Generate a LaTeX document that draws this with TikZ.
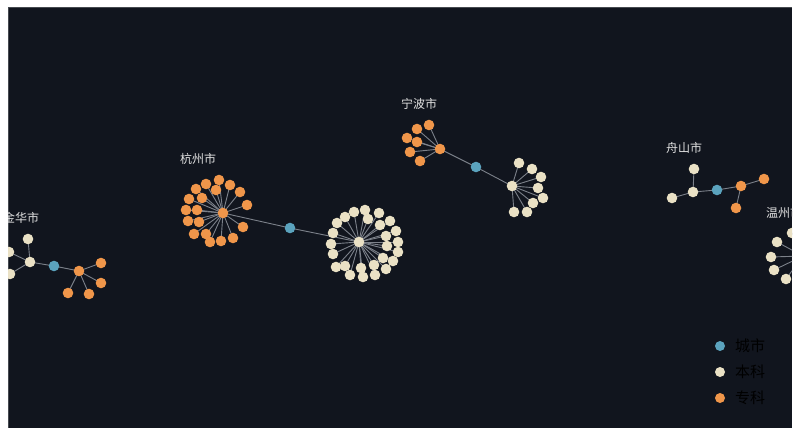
\documentclass[tikz,border=0pt]{standalone}
\usepackage{fontspec}
\usetikzlibrary{backgrounds}
\newfontfamily\cjk{Noto Sans CJK SC}
\definecolor{bg}{HTML}{11151E}
\definecolor{cblue}{HTML}{5BA3BE}
\definecolor{cbeige}{HTML}{EAE1C5}
\definecolor{corange}{HTML}{F0964A}
\definecolor{cedge}{HTML}{7C818A}
\definecolor{clabel}{HTML}{E2E2E2}
\tikzset{
  nd/.style={circle,inner sep=0pt,minimum size=10.6pt},
  cityN/.style={nd,fill=cblue},
  benN/.style={nd,fill=cbeige},
  zhuanN/.style={nd,fill=corange},
  edge/.style={draw=cedge,line width=0.9pt},
  lbl/.style={text=clabel,font=\cjk\fontsize{12}{14}\selectfont,inner sep=0pt},
  legtxt/.style={text=black,font=\cjk\fontsize{15}{17}\selectfont,inner sep=0pt,anchor=west},
  legdot/.style={circle,inner sep=0pt,minimum size=10pt}
}
\begin{document}
\begin{tikzpicture}[x=1pt,y=-1pt]
\useasboundingbox (0,0) rectangle (800,428);
\begin{scope}
\clip (8,8) rectangle (792,428);
% ---------- Hangzhou ----------
\node[zhuanN] (hzc) at (223,213) {};
\node[cityN] (hzb) at (290,228) {};
\node[benN] (hzu) at (359,242) {};
\foreach \x/\y [count=\i] in {219/180,206/184,230/185,216/190,196/189,240/192,189/199,202/198,247/205,186/210,197/210,188/221,199/222,243/227,194/234,206/234,233/238,210/242,221/241}
  \node[zhuanN] (hzo\i) at (\x,\y) {};
\foreach \x/\y [count=\i] in {365/210,354/212,379/213,345/217,368/219,390/221,337/223,380/225,396/231,333/233,386/236,398/242,331/244,387/246,398/252,333/254,383/258,393/261,336/267,345/266,361/268,374/265,386/269,350/275,363/277,375/275}
  \node[benN] (hzn\i) at (\x,\y) {};
\node[lbl] (hzl) at (198,159) {杭州市};
% ---------- Ningbo ----------
\node[zhuanN] (nbc) at (440,149) {};
\node[cityN] (nbb) at (476,167) {};
\node[benN] (nbu) at (512,186) {};
\foreach \x/\y [count=\i] in {429/125,417/129,407/138,417/142,410/152,420/161}
  \node[zhuanN] (nbo\i) at (\x,\y) {};
\foreach \x/\y [count=\i] in {519/163,532/169,541/177,538/188,543/198,533/203,514/212,527/212}
  \node[benN] (nbn\i) at (\x,\y) {};
\node[lbl] (nbl) at (419,104) {宁波市};
% ---------- Jinhua ----------
\node[benN] (jhu) at (30,262) {};
\node[cityN] (jhb) at (54,266) {};
\node[zhuanN] (jhc) at (79,271) {};
\foreach \x/\y [count=\i] in {28/239,9/252,10/274}
  \node[benN] (jhn\i) at (\x,\y) {};
\foreach \x/\y [count=\i] in {101/263,101/283,89/294,68/293}
  \node[zhuanN] (jho\i) at (\x,\y) {};
\node[lbl] (jhl) at (21,218) {金华市};
% ---------- Zhoushan ----------
\node[benN] (zsu) at (693,192) {};
\node[cityN] (zsb) at (717,190) {};
\node[zhuanN] (zsc) at (741,186) {};
\foreach \x/\y [count=\i] in {694/169,672/198}
  \node[benN] (zsn\i) at (\x,\y) {};
\foreach \x/\y [count=\i] in {764/179,736/208}
  \node[zhuanN] (zso\i) at (\x,\y) {};
\node[lbl] (zsl) at (684,148) {舟山市};
% ---------- Wenzhou ----------
\node[benN] (wzu) at (803,256) {};
\foreach \x/\y [count=\i] in {792/233,777/242,771/257,774/270,786/279}
  \node[benN] (wzn\i) at (\x,\y) {};
\node[lbl,anchor=west] (wzl) at (766,213) {温州市};
% ---------- legend ----------
\node[legdot,fill=cblue] (lg1) at (720,346) {};
\node[legdot,fill=cbeige] (lg2) at (720,372) {};
\node[legdot,fill=corange] (lg3) at (720,398) {};
\node[legtxt] (lt1) at (735,346) {城市};
\node[legtxt] (lt2) at (735,372) {本科};
\node[legtxt] (lt3) at (735,398) {专科};
\end{scope}
% ---------- edges and background ----------
\begin{pgfonlayer}{background}
\fill[white] (0,0) rectangle (800,428);
\fill[bg] (8,8) rectangle (792,428);
\draw[color={rgb,255:red,70;green,74;blue,80},line width=1pt] (8,428) -- (8,8) -- (792,8);
\clip (8,8) rectangle (792,428);
\foreach \i in {1,...,19} \draw[edge] (hzc.center) -- (hzo\i.center);
\foreach \i in {1,...,26} \draw[edge] (hzu.center) -- (hzn\i.center);
\draw[edge] (hzc.center) -- (hzb.center) -- (hzu.center);
\foreach \i in {1,...,6} \draw[edge] (nbc.center) -- (nbo\i.center);
\foreach \i in {1,...,8} \draw[edge] (nbu.center) -- (nbn\i.center);
\draw[edge] (nbc.center) -- (nbb.center) -- (nbu.center);
\foreach \i in {1,...,3} \draw[edge] (jhu.center) -- (jhn\i.center);
\foreach \i in {1,...,4} \draw[edge] (jhc.center) -- (jho\i.center);
\draw[edge] (jhu.center) -- (jhb.center) -- (jhc.center);
\foreach \i in {1,2} \draw[edge] (zsu.center) -- (zsn\i.center);
\foreach \i in {1,2} \draw[edge] (zsc.center) -- (zso\i.center);
\draw[edge] (zsu.center) -- (zsb.center) -- (zsc.center);
\foreach \i in {1,...,5} \draw[edge] (wzu.center) -- (wzn\i.center);
\end{pgfonlayer}
\end{tikzpicture}
\end{document}
